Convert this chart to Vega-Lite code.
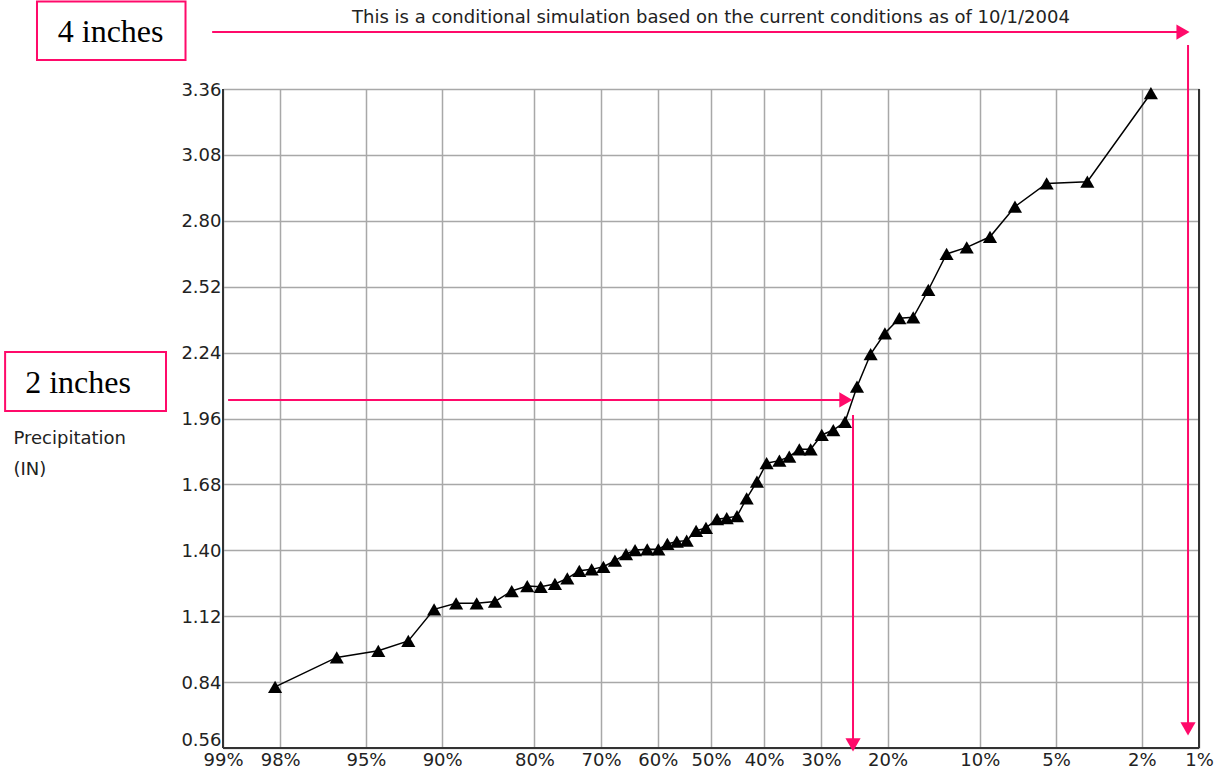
{
  "$schema": "https://vega.github.io/schema/vega-lite/v6.json",
  "width": 976,
  "height": 659,
  "autosize": {"type": "none"},
  "padding": {"left": 223, "top": 89, "right": 27, "bottom": 35},
  "background": "white",
  "config": {"view": {"stroke": null}, "font": "DejaVu Sans"},
  "title": {
    "text": "This is a conditional simulation based on the current conditions as of 10/1/2004",
    "anchor": "middle",
    "frame": "group",
    "font": "DejaVu Sans",
    "fontSize": 18,
    "fontWeight": "normal",
    "color": "#222222",
    "offset": -27
  },
  "datasets": {
    "sim": [
      {"z": -2.078, "v": 0.820}, {"z": -1.784, "v": 0.945}, {"z": -1.586, "v": 0.973}, {"z": -1.443, "v": 1.015},
      {"z": -1.320, "v": 1.149}, {"z": -1.215, "v": 1.175}, {"z": -1.117, "v": 1.175}, {"z": -1.030, "v": 1.182},
      {"z": -0.950, "v": 1.227}, {"z": -0.876, "v": 1.248}, {"z": -0.812, "v": 1.245}, {"z": -0.744, "v": 1.257},
      {"z": -0.685, "v": 1.281}, {"z": -0.628, "v": 1.313}, {"z": -0.569, "v": 1.319}, {"z": -0.513, "v": 1.330},
      {"z": -0.458, "v": 1.356}, {"z": -0.405, "v": 1.384}, {"z": -0.362, "v": 1.401}, {"z": -0.304, "v": 1.404},
      {"z": -0.251, "v": 1.404}, {"z": -0.208, "v": 1.427}, {"z": -0.163, "v": 1.437}, {"z": -0.116, "v": 1.441},
      {"z": -0.071, "v": 1.483}, {"z": -0.024, "v": 1.495}, {"z": 0.029, "v": 1.532}, {"z": 0.075, "v": 1.537},
      {"z": 0.124, "v": 1.545}, {"z": 0.170, "v": 1.621}, {"z": 0.219, "v": 1.692}, {"z": 0.265, "v": 1.770},
      {"z": 0.326, "v": 1.781}, {"z": 0.373, "v": 1.798}, {"z": 0.421, "v": 1.829}, {"z": 0.475, "v": 1.829},
      {"z": 0.528, "v": 1.890}, {"z": 0.583, "v": 1.911}, {"z": 0.639, "v": 1.946}, {"z": 0.696, "v": 2.095},
      {"z": 0.761, "v": 2.234}, {"z": 0.829, "v": 2.322}, {"z": 0.898, "v": 2.386}, {"z": 0.964, "v": 2.390},
      {"z": 1.036, "v": 2.506}, {"z": 1.123, "v": 2.659}, {"z": 1.219, "v": 2.687}, {"z": 1.330, "v": 2.732},
      {"z": 1.449, "v": 2.860}, {"z": 1.600, "v": 2.959}, {"z": 1.794, "v": 2.966}, {"z": 2.097, "v": 3.342}
    ],
    "border": [
      {"z": 2.3263, "v": 0.56, "z2": 2.3263, "v2": 3.36},
      {"z": -2.3263, "v": 0.56, "z2": -2.3263, "v2": 3.36},
      {"z": -2.3263, "v": 0.56, "z2": 2.3263, "v2": 0.56}
    ],
    "boxes": [
      {"z": -3.213, "v": 3.732, "z2": -2.505, "v2": 3.483},
      {"z": -3.365, "v": 2.243, "z2": -2.598, "v2": 1.992}
    ],
    "boxlabels": [
      {"z": -2.862, "v": 3.560, "label": "4 inches"},
      {"z": -3.017, "v": 2.068, "label": "2 inches"}
    ],
    "arrows": [
      {"z": -2.378, "v": 3.602, "z2": 2.250, "v2": 3.602},
      {"z": 2.274, "v": 3.547, "z2": 2.274, "v2": 0.641},
      {"z": -2.302, "v": 2.039, "z2": 0.643, "v2": 2.039},
      {"z": 0.677, "v": 1.975, "z2": 0.677, "v2": 0.573}
    ],
    "heads": [
      {"z": 2.250, "v": 3.602, "dir": "triangle-right"},
      {"z": 2.274, "v": 0.641, "dir": "triangle-down"},
      {"z": 0.643, "v": 2.039, "dir": "triangle-right"},
      {"z": 0.677, "v": 0.573, "dir": "triangle-down"}
    ]
  },
  "encoding": {
    "x": {
      "field": "z",
      "type": "quantitative",
      "scale": {"domain": [-2.3263, 2.3263], "nice": false, "zero": false},
      "axis": {
        "title": null,
        "values": [-2.3263, -2.0537, -1.6449, -1.2816, -0.8416, -0.5244, -0.2533, 0, 0.2533, 0.5244, 0.8416, 1.2816, 1.6449, 2.0537, 2.3263],
        "labelExpr": "format(100 * (1 - cumulativeNormal(datum.value)), '.0f') + '%'",
        "grid": true,
        "gridColor": "#a8a8a8",
        "gridWidth": 1.5,
        "domain": false,
        "ticks": false,
        "tickSize": 0,
        "labelFont": "DejaVu Sans",
        "labelFontSize": 18,
        "labelColor": "#222222",
        "labelPadding": 3,
        "labelOverlap": false,
        "labelBound": false,
        "labelFlush": false
      }
    },
    "y": {
      "field": "v",
      "type": "quantitative",
      "scale": {"domain": [0.56, 3.36], "nice": false, "zero": false},
      "axis": {
        "values": [0.56, 0.84, 1.12, 1.4, 1.68, 1.96, 2.24, 2.52, 2.8, 3.08, 3.36],
        "format": ".2f",
        "title": ["Precipitation", "(IN)"],
        "titleAngle": 0,
        "titleAlign": "left",
        "titleBaseline": "top",
        "titleX": -210,
        "titleY": 340,
        "titleLineHeight": 31,
        "titleFont": "DejaVu Sans",
        "titleFontSize": 18,
        "titleFontWeight": "normal",
        "titleColor": "#222222",
        "grid": true,
        "gridColor": "#a8a8a8",
        "gridWidth": 1.5,
        "domain": false,
        "ticks": false,
        "tickSize": 0,
        "labelFont": "DejaVu Sans",
        "labelFontSize": 18,
        "labelColor": "#222222",
        "labelPadding": 2,
        "labelOffset": 1,
        "labelBaseline": {"condition": {"test": "datum.value < 0.6", "value": "bottom"}, "value": "middle"},
        "labelOverlap": false,
        "labelBound": false,
        "labelFlush": false
      }
    }
  },
  "layer": [
    {
      "data": {"name": "border"},
      "mark": {"type": "rule", "color": "#333333", "strokeWidth": 2},
      "encoding": {"x2": {"field": "z2"}, "y2": {"field": "v2"}}
    },
    {
      "data": {"name": "sim"},
      "mark": {"type": "line", "color": "#000000", "strokeWidth": 1.5}
    },
    {
      "data": {"name": "sim"},
      "mark": {"type": "point", "shape": "triangle-up", "filled": true, "color": "#000000", "size": 200, "opacity": 1}
    },
    {
      "data": {"name": "boxes"},
      "mark": {"type": "rect", "fill": "transparent", "stroke": "#ff0a6a", "strokeWidth": 2},
      "encoding": {"x2": {"field": "z2"}, "y2": {"field": "v2"}}
    },
    {
      "data": {"name": "boxlabels"},
      "mark": {"type": "text", "font": "Liberation Serif", "fontSize": 32, "color": "#000000", "align": "center", "baseline": "alphabetic"},
      "encoding": {"text": {"field": "label", "type": "nominal"}}
    },
    {
      "data": {"name": "arrows"},
      "mark": {"type": "rule", "color": "#ff0a6a", "strokeWidth": 2},
      "encoding": {"x2": {"field": "z2"}, "y2": {"field": "v2"}}
    },
    {
      "data": {"name": "heads"},
      "mark": {"type": "point", "filled": true, "color": "#ff0a6a", "size": 230, "opacity": 1},
      "encoding": {"shape": {"field": "dir", "type": "nominal", "scale": null, "legend": null}}
    }
  ]
}
